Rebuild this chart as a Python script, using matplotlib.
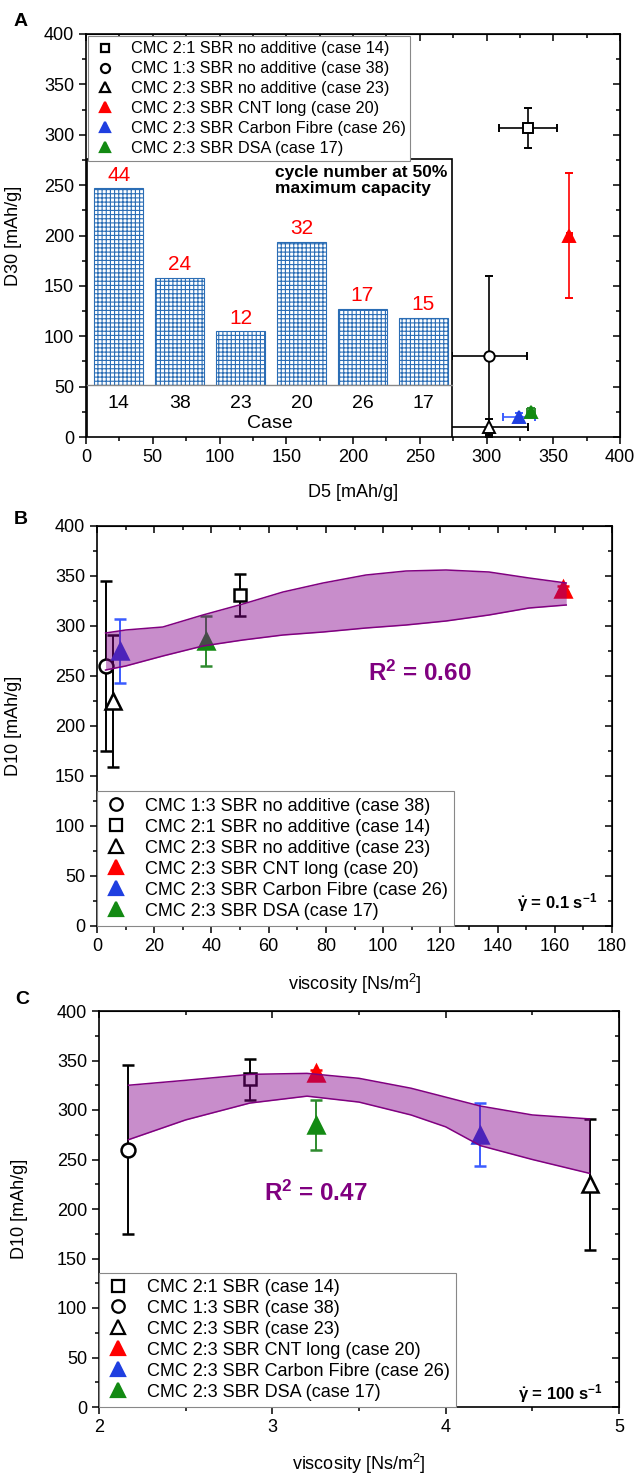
import matplotlib
matplotlib.use('Agg')
import matplotlib.pyplot as plt
from matplotlib.ticker import MultipleLocator
from matplotlib.patches import Rectangle
from matplotlib.lines import Line2D

plt.rcParams['font.family'] = ['Liberation Sans', 'DejaVu Sans']
plt.rcParams['mathtext.fontset'] = 'custom'
plt.rcParams['mathtext.rm'] = 'Liberation Sans'
plt.rcParams['mathtext.it'] = 'Liberation Sans:italic'
plt.rcParams['mathtext.bf'] = 'Liberation Sans:bold'
plt.rcParams['hatch.linewidth'] = 0.8

# ---------------- data ----------------
cases = ['14', '38', '23', '20', '26', '17']

# Panel A : D5 vs D30
a_d5 = [331, 302, 302, 362, 324, 333]
a_d5_err = [22, 28, 29, 2, 12, 3]
a_d30 = [307, 80, 10, 200, 20, 25]
a_d30_err = [20, 80, 8, 62, 4, 4]
a_labels = ['CMC 2:1 SBR no additive (case 14)', 'CMC 1:3 SBR no additive (case 38)',
            'CMC 2:3 SBR no additive (case 23)', 'CMC 2:3 SBR CNT long (case 20)',
            'CMC 2:3 SBR Carbon Fibre (case 26)', 'CMC 2:3 SBR DSA (case 17)']

# Inset: cycle number at 50% maximum capacity
inset_cases = ['14', '38', '23', '20', '26', '17']
inset_cycles = [44, 24, 12, 32, 17, 15]

# Panel B / C : D10 vs viscosity
d10 = [331, 260, 225, 337, 275, 285]
d10_err = [21, 85, 66, 3, 32, 25]
visc_low = [50, 3, 5.5, 163, 8, 38]          # shear rate 0.1 1/s
visc_high = [2.87, 2.17, 4.83, 3.25, 4.20, 3.25]  # shear rate 100 1/s

b_order = ['38', '14', '23', '20', '26', '17']
b_labels = {'38': 'CMC 1:3 SBR no additive (case 38)', '14': 'CMC 2:1 SBR no additive (case 14)',
            '23': 'CMC 2:3 SBR no additive (case 23)', '20': 'CMC 2:3 SBR CNT long (case 20)',
            '26': 'CMC 2:3 SBR Carbon Fibre (case 26)', '17': 'CMC 2:3 SBR DSA (case 17)'}
c_order = ['14', '38', '23', '20', '26', '17']
c_labels = {'14': 'CMC 2:1 SBR (case 14)', '38': 'CMC 1:3 SBR (case 38)',
            '23': 'CMC 2:3 SBR (case 23)', '20': 'CMC 2:3 SBR CNT long (case 20)',
            '26': 'CMC 2:3 SBR Carbon Fibre (case 26)', '17': 'CMC 2:3 SBR DSA (case 17)'}

# fit confidence bands
b_band_x = [3, 10, 23, 37, 51, 65, 79, 94, 108, 122, 137, 151, 164]
b_band_hi = [293, 296, 299, 311, 322, 334, 343, 351, 355, 356, 354, 348, 343]
b_band_lo = [256, 260, 270, 280, 286, 291, 294, 298, 301, 305, 311, 318, 321]
c_band_x = [2.17, 2.5, 2.87, 3.2, 3.5, 3.8, 4.0, 4.2, 4.5, 4.83]
c_band_hi = [325, 330, 336, 337, 332, 322, 313, 304, 295, 291]
c_band_lo = [270, 290, 307, 314, 308, 295, 283, 264, 250, 236]

r2_b = '0.60'
r2_c = '0.47'

# ---------------- styles ----------------
BLUE = '#1f3fe0'
GREEN = '#138a13'
styles = {
    '14': dict(marker='s', mfc='white', mec='black', ec='black'),
    '38': dict(marker='o', mfc='white', mec='black', ec='black'),
    '23': dict(marker='^', mfc='white', mec='black', ec='black'),
    '20': dict(marker='^', mfc='red', mec='red', ec='red'),
    '26': dict(marker='^', mfc=BLUE, mec=BLUE, ec='#3a5cff'),
    '17': dict(marker='^', mfc=GREEN, mec=GREEN, ec='#2e8b2e'),
}
size_big = {'s': 9, 'o': 10, '^': 11}
size_small = {'s': 7, 'o': 7.5, '^': 8}

W, H = 635, 1477
fig = plt.figure(figsize=(W / 100, H / 100), dpi=100)


def fr(l, t, r, b):
    return [l / W, 1 - b / H, (r - l) / W, (b - t) / H]


def style_axes(ax, xmaj, xmin, ymaj, ymin):
    for sp in ax.spines.values():
        sp.set_linewidth(1.2)
    ax.xaxis.set_major_locator(MultipleLocator(xmaj))
    ax.xaxis.set_minor_locator(MultipleLocator(xmin))
    ax.yaxis.set_major_locator(MultipleLocator(ymaj))
    ax.yaxis.set_minor_locator(MultipleLocator(ymin))
    ax.tick_params(which='both', direction='out', labelsize=13, width=1.1)
    ax.tick_params(which='major', length=5)
    ax.tick_params(which='minor', length=3)
    sx = ax.secondary_xaxis('top')
    sx.xaxis.set_major_locator(MultipleLocator(xmaj))
    sx.xaxis.set_minor_locator(MultipleLocator(xmin))
    sx.tick_params(which='both', direction='in', labeltop=False, width=1.1)
    sx.tick_params(which='major', length=5)
    sx.tick_params(which='minor', length=3)
    sy = ax.secondary_yaxis('right')
    sy.yaxis.set_major_locator(MultipleLocator(ymaj))
    sy.yaxis.set_minor_locator(MultipleLocator(ymin))
    sy.tick_params(which='both', direction='in', labelright=False, width=1.1)
    sy.tick_params(which='major', length=5)
    sy.tick_params(which='minor', length=3)


def handles(order, labels, ms_map):
    hs = []
    for c in order:
        s = styles[c]
        hs.append(Line2D([], [], ls='none', marker=s['marker'], mfc=s['mfc'], mec=s['mec'],
                         ms=ms_map[s['marker']], mew=1.6,
                         label=labels[c] if isinstance(labels, dict) else labels[cases.index(c)]))
    return hs


# ---------------- Panel A ----------------
axA = fig.add_axes(fr(86, 34, 620, 437))
axA.set_xlim(0, 400)
axA.set_ylim(0, 400)
style_axes(axA, 50, 25, 50, 25)
for i, c in enumerate(cases):
    s = styles[c]
    axA.errorbar(a_d5[i], a_d30[i], xerr=a_d5_err[i], yerr=a_d30_err[i], fmt=s['marker'],
                 mfc=s['mfc'], mec=s['mec'], ms=size_small[s['marker']], mew=1.4,
                 ecolor=s['ec'], elinewidth=1.2, capsize=3, capthick=1.2, zorder=3)
axA.set_xlabel('D5 [mAh/g]', fontsize=13)
axA.set_ylabel('D30 [mAh/g]', fontsize=13)
axA.xaxis.set_label_coords(0.5, -0.117)
axA.yaxis.set_label_coords(-0.12, 0.5)
legA = axA.legend(handles=handles(cases, a_labels, {'s': 6, 'o': 6.5, '^': 7.5}), loc='upper left',
                  bbox_to_anchor=(0, 1), borderaxespad=0.15, fontsize=11.7, frameon=True,
                  fancybox=False, edgecolor='#888888', framealpha=1, labelspacing=0.3,
                  handlelength=1.4, handletextpad=0.9, borderpad=0.3)
legA.get_frame().set_linewidth(0.8)
axA.add_patch(Rectangle((0.002, 0), 0.683, 0.69, transform=axA.transAxes, facecolor='white',
                        edgecolor='black', lw=1.2, zorder=5))

# inset
axI = fig.add_axes(fr(87, 159, 452, 385))
axI.set_zorder(3)
axI.patch.set_alpha(0)
axI.bar(range(len(inset_cycles)), inset_cycles, width=0.8, color='white', edgecolor='#2a6db5',
        hatch='++++', lw=0.8)
axI.set_xlim(-0.52, 5.47)
axI.set_ylim(0, 50.5)
for sp in ['top', 'left', 'right']:
    axI.spines[sp].set_visible(False)
axI.spines['bottom'].set_color('#888888')
axI.spines['bottom'].set_linewidth(1.0)
axI.set_yticks([])
axI.set_xticks(range(len(inset_cases)))
axI.set_xticklabels(inset_cases, fontsize=14)
axI.tick_params(axis='x', length=0, pad=7)
axI.set_xlabel('Case', fontsize=14, labelpad=2)
for i, v in enumerate(inset_cycles):
    axI.text(i, v + 0.8, str(v), color='red', fontsize=15, ha='center', va='bottom')
axI.text(0.515, 0.975, 'cycle number at 50%\nmaximum capacity', transform=axI.transAxes,
         ha='left', va='top', fontsize=12.5, fontweight='bold', linespacing=1.1)


# ---------------- Panels B and C ----------------
def vis_panel(rect, xvals, xlim, xmaj, xmin, band_x, band_hi, band_lo, order, labels,
              r2, r2_pos, gamma_txt, gamma_pos, ylabel_x, xlabel_y):
    ax = fig.add_axes(rect)
    ax.set_xlim(*xlim)
    ax.set_ylim(0, 400)
    style_axes(ax, xmaj, xmin, 50, 25)
    for i, c in enumerate(cases):
        s = styles[c]
        ax.errorbar(xvals[i], d10[i], yerr=d10_err[i], fmt=s['marker'], mfc=s['mfc'],
                    mec=s['mec'], ms=size_big[s['marker']], mew=1.8, ecolor=s['ec'],
                    elinewidth=1.4, capsize=4, capthick=1.4, zorder=2)
    ax.fill_between(band_x, band_lo, band_hi, color='#85028c', alpha=0.45, lw=0, zorder=3)
    ax.plot(band_x, band_hi, color='#800080', lw=1.1, zorder=4)
    ax.plot(band_x, band_lo, color='#800080', lw=1.1, zorder=4)
    ax.text(r2_pos[0], r2_pos[1], 'R$^\\mathbf{2}$ = ' + r2, color='#800080', fontsize=17.5,
            fontweight='bold', ha='center', va='center')
    ax.text(gamma_pos[0], gamma_pos[1], gamma_txt, transform=ax.transAxes, fontsize=12,
            fontweight='bold', ha='center', va='center')
    ax.set_xlabel('viscosity [Ns/m$^2$]', fontsize=13)
    ax.set_ylabel('D10 [mAh/g]', fontsize=13)
    ax.xaxis.set_label_coords(0.5, xlabel_y)
    ax.yaxis.set_label_coords(ylabel_x, 0.5)
    leg = ax.legend(handles=handles(order, labels, {'s': 8, 'o': 9, '^': 10}), loc='lower left',
                    bbox_to_anchor=(0, 0), borderaxespad=0, fontsize=13, frameon=True,
                    fancybox=False, edgecolor='#888888', framealpha=1, labelspacing=0.22,
                    handlelength=1.4, handletextpad=0.9, borderpad=0.35)
    leg.get_frame().set_linewidth(0.8)
    leg.set_zorder(6)
    return ax


axB = vis_panel(fr(97, 526, 612, 926), visc_low, (0, 180), 20, 10, b_band_x, b_band_hi, b_band_lo,
                b_order, b_labels, r2_b, (113, 253), r'$\mathbf{\dot{\gamma}}$ = 0.1 s$^{\mathbf{-1}}$',
                (0.893, 0.0575), -0.146, -0.115)
axC = vis_panel(fr(99, 1011, 619, 1407), visc_high, (2, 5), 1, 0.5, c_band_x, c_band_hi, c_band_lo,
                c_order, c_labels, r2_c, (3.25, 216), r'$\mathbf{\dot{\gamma}}$ = 100 s$^{\mathbf{-1}}$',
                (0.888, 0.035), -0.137, -0.113)

for letter, (x, y) in {'A': (21, 22), 'B': (21, 520), 'C': (22, 1000)}.items():
    fig.text(x / W, 1 - y / H, letter, fontsize=14, fontweight='bold', ha='center', va='center')

fig.savefig('out.png', dpi=100)
